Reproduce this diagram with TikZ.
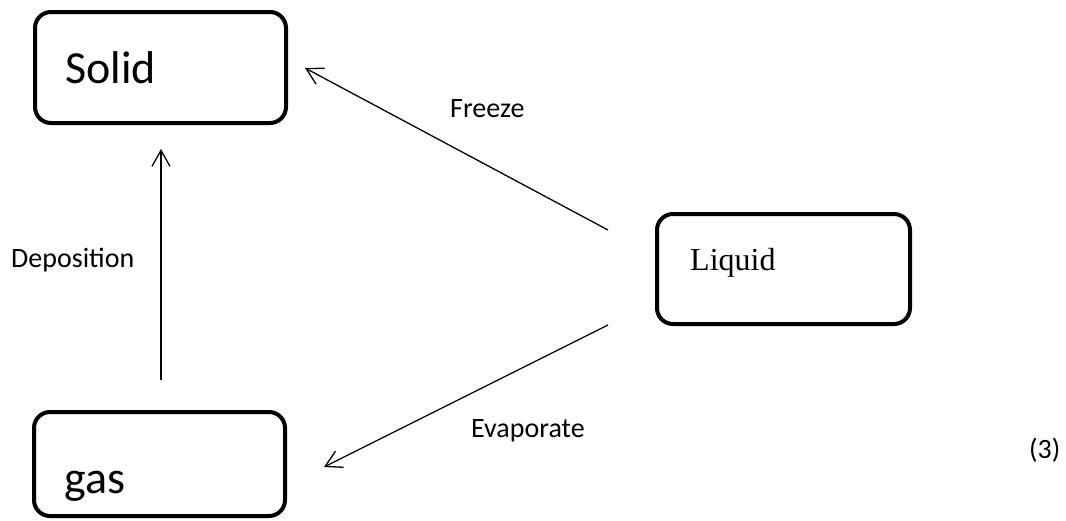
\documentclass[tikz,border=0pt]{standalone}
\usepackage{fontspec}
\setmainfont{Carlito}
\newfontfamily\libserif{Liberation Serif}
\usetikzlibrary{arrows.meta}
\tikzset{
  statebox/.style={draw=black, line width=4pt, rounded corners=16pt, inner sep=0pt, fill=none},
  bigtxt/.style={anchor=base west, inner sep=0pt, font=\fontsize{46}{52}\selectfont},
  smalltxt/.style={anchor=base west, inner sep=0pt, font=\fontsize{28}{32}\selectfont},
  liqtxt/.style={anchor=base west, inner sep=0pt, font=\libserif\fontsize{32}{36}\selectfont},
  flow/.style={draw=black, line width=1.3pt, -{Straight Barb[length=16pt, width=18pt, line width=1.3pt]}}
}
\begin{document}
\begin{tikzpicture}[x=1pt, y=-1pt]
\useasboundingbox[fill=white] (0,0) rectangle (1066,520);
% boxes
\node[statebox, minimum width=251pt, minimum height=111pt] (solid) at (160.5,67.5) {};
\node[statebox, minimum width=253pt, minimum height=110pt] (liquid) at (783.5,269) {};
\node[statebox, minimum width=251pt, minimum height=104pt] (gas) at (159.5,464) {};
% box texts
\node[bigtxt] (solidtxt) at (65,83) {Solid};
\node[liqtxt] (liquidtxt) at (690,270) {Liquid};
\node[bigtxt] (gastxt) at (64,493) {gas};
% connector ends
\coordinate (fzA) at (608,230);
\coordinate (fzB) at (305,68);
\coordinate (dpA) at (161,380);
\coordinate (dpB) at (161,149);
\coordinate (evA) at (608,325);
\coordinate (evB) at (324,467);
\draw[flow] (fzA) -- (fzB);
\draw[flow] (dpA) -- (dpB);
\draw[flow] (evA) -- (evB);
% labels
\node[smalltxt] (freeze) at (450,117) {Freeze};
\node[smalltxt] (depo) at (11,267) {Deposition};
\node[smalltxt] (evap) at (471,437) {Evaporate};
\node[smalltxt] (num) at (1029,458) {(3)};
\end{tikzpicture}
\end{document}
